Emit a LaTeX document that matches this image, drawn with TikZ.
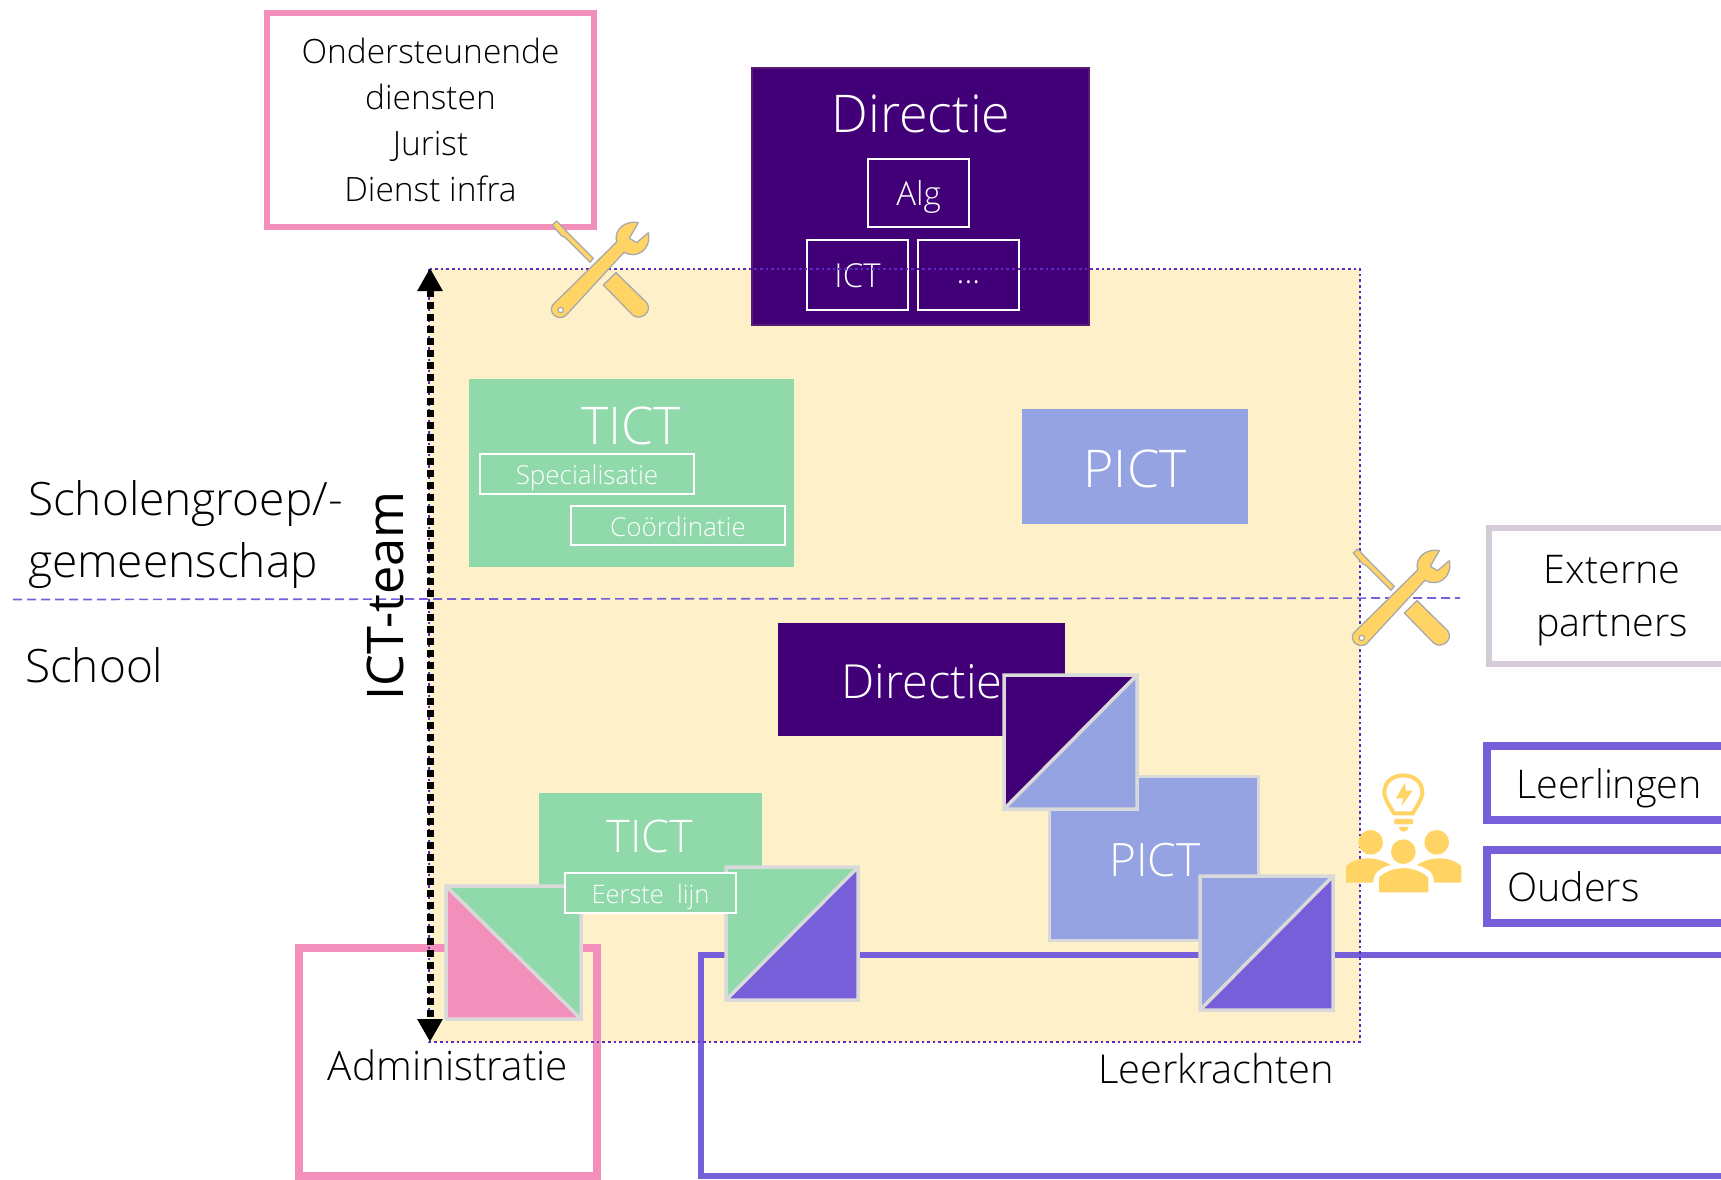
\documentclass[tikz,border=0pt]{standalone}
\usepackage{fontspec}
\setmainfont{Open Sans}
\newfontfamily\lightf[UprightFont=* Light]{Open Sans}
\usetikzlibrary{arrows.meta}
\definecolor{dpurple}{HTML}{410078}
\definecolor{dborder}{HTML}{5B1A72}
\definecolor{tgreen}{HTML}{8FD9AB}
\definecolor{pblue}{HTML}{95A3E3}
\definecolor{lpurple}{HTML}{775FD9}
\definecolor{lpink}{HTML}{F28FBB}
\definecolor{lcream}{HTML}{FEF0C9}
\definecolor{ygold}{HTML}{FFD465}
\definecolor{dotline}{HTML}{5A2DC0}
\definecolor{greyp}{HTML}{D5CCDA}
\definecolor{sqedge}{HTML}{D9D9D9}
\definecolor{icongrey}{HTML}{A9A9A9}
\newcommand{\fs}[1]{\fontsize{#1pt}{#1pt}\selectfont}
\newcommand{\dn}[2]{\raisebox{-#1pt}[\height][\depth]{#2}}
\tikzset{
  x=1pt,y=-1pt,
  bx/.style={inner sep=0pt,outer sep=0pt,align=center,anchor=north west},
  lbl/.style={inner sep=0pt,outer sep=0pt,align=center,text=black},
  wlbl/.style={inner sep=0pt,outer sep=0pt,align=center,text=white},
  fillbox/.style={bx,text=white},
  inbox/.style={bx,draw=white,line width=2.6pt,text=white},
  sqline/.style={draw=sqedge,line width=3.5pt,line join=miter},
  iconst/.style={fill=ygold,draw=icongrey,line width=1.3pt,line join=round},
  tools/.pic={
    \begin{scope}[x=0.3333pt,y=-0.3333pt]
      \path[iconst] (97,75)--(110,63)--(145,100)--(220,175)--(210,187)--(135,112)--(125,108)--cycle;
      \path[iconst] (288,218)--(250,255)--(338,345) .. controls (360,365) and (400,335) .. (380,308)--cycle;
      \path[iconst] (98,315)--(290,126) .. controls (280,90) and (315,60) .. (355,68)--(328,115)--(350,128)--(385,98) .. controls (395,150) and (350,178) .. (312,157)--(137,347) .. controls (115,364) and (83,340) .. (98,315)--cycle;
      \path[fill=white,draw=icongrey,line width=1.2pt] (122,330) circle[radius=8];
    \end{scope}
  },
}
\begin{document}
\begin{tikzpicture}
\useasboundingbox (0,0) rectangle (1721,1180);
% background band
\fill[lcream] (429,269) rectangle (1360,1042);
% outlined groups
\node[bx,draw=lpink,line width=6pt,minimum width=327pt,minimum height=214pt,font=\lightf\fontsize{33.5pt}{46pt}\selectfont] (support) at (267,13) {Ondersteunende\\diensten\\Jurist\\Dienst infra};
\draw[lpink,line width=8pt] (299,1176) coordinate (adminA) -- (299,948) -- (597,948) -- (597,1176) -- cycle;
\node[lbl,font=\lightf\fs{40.5}] (admin) at (448,1065) {Administratie};
\draw[lpurple,line width=6pt] (1721,955) coordinate (teachR) -- (701,955) -- (701,1176) -- (1721,1176);
\node[lbl,font=\lightf\fs{39.8}] (teach) at (1216,1069) {Leerkrachten};
% directie top
\node[fillbox,fill=dpurple,draw=dborder,line width=2.5pt,minimum width=337pt,minimum height=257pt] (dirbox) at (752,68) {};
\node[wlbl,font=\lightf\fs{52}] (dirt) at (921,114) {Directie};
\node[inbox,minimum width=101pt,minimum height=68pt,font=\lightf\fs{33}] (alg) at (868,159) {\dn{4}{Alg}};
\node[inbox,minimum width=101pt,minimum height=70pt,font=\lightf\fs{33}] (ict) at (807,240) {\dn{1}{ICT}};
\node[inbox,minimum width=101pt,minimum height=70pt,font=\lightf\fs{33}] (etc) at (918,240) {\dn{7}{...}};
% TICT top
\node[fillbox,fill=tgreen,minimum width=325pt,minimum height=188pt] (tict1) at (469,379) {};
\node[wlbl,font=\lightf\fs{52}] (tict1t) at (631,426) {TICT};
\node[inbox,minimum width=214pt,minimum height=40pt,font=\lightf\fs{26}] (spec) at (480,454) {\dn{4}{Specialisatie}};
\node[inbox,minimum width=214pt,minimum height=39pt,font=\lightf\fs{26}] (coord) at (571,506) {\dn{1}{Coördinatie}};
% PICT top
\node[fillbox,fill=pblue,minimum width=226pt,minimum height=115pt,font=\lightf\fs{52}] (pict1) at (1022,409) {\dn{2}{PICT}};
% divider
\coordinate (divL) at (13,599.5);
\coordinate (divR) at (1460,598);
\draw[lpurple,line width=1.7pt,dash pattern=on 9pt off 5pt] (divL) -- (divR);
% labels
\node[lbl,anchor=west,font=\lightf\fs{46}] (sg1) at (28,504) {Scholengroep/-};
\node[lbl,anchor=west,font=\lightf\fs{46}] (sg2) at (28,566) {gemeenschap};
\node[lbl,anchor=west,font=\lightf\fs{46}] (sch) at (25,665) {School};
\node[lbl,rotate=90,font=\fs{50.5}] (team) at (385,596) {ICT-team};
% directie school
\node[fillbox,fill=dpurple,minimum width=287pt,minimum height=113pt] (dir2) at (778,623) {};
\node[wlbl,font=\lightf\fs{47}] (dir2t) at (922,682) {Directie};
% PICT school
\node[fillbox,fill=pblue,draw=sqedge,line width=3pt,minimum width=209pt,minimum height=164pt] (pict2) at (1049,776) {};
\node[wlbl,font=\lightf\fs{46}] (pict2t) at (1155,860) {PICT};
% square dir/pict
\fill[dpurple] (1004,809) -- (1004,675) -- (1137,675) -- cycle;
\fill[pblue] (1004,809) -- (1137,809) -- (1137,675) -- cycle;
\draw[sqline] (1004,675) rectangle (1137,809) (1004,809) -- (1137,675);
% square pict/teacher
\fill[pblue] (1200,1010) -- (1200,876) -- (1333,876) -- cycle;
\fill[lpurple] (1200,1010) -- (1333,1010) -- (1333,876) -- cycle;
\draw[sqline] (1200,876) rectangle (1333,1010) (1200,1010) -- (1333,876);
% TICT school
\node[fillbox,fill=tgreen,minimum width=223pt,minimum height=95pt] (tict2) at (539,793) {};
\node[wlbl,font=\lightf\fs{45}] (tict2t) at (650,836) {TICT};
% square admin/tict
\fill[lpink] (446,886) -- (446,1019) -- (581,1019) -- cycle;
\fill[tgreen] (446,886) -- (581,886) -- (581,1019) -- cycle;
\draw[sqline] (446,886) rectangle (581,1019) (446,886) -- (581,1019);
% square tict/teacher
\fill[tgreen] (726,1000) -- (726,867) -- (858,867) -- cycle;
\fill[lpurple] (726,1000) -- (858,1000) -- (858,867) -- cycle;
\draw[sqline] (726,867) rectangle (858,1000) (726,1000) -- (858,867);
% first line label
\node[inbox,fill=tgreen,minimum width=171pt,minimum height=40pt,font=\lightf\fs{25.5}] (first) at (565,873) {\dn{4}{Eerste\ \ lijn}};
% dotted outline
\draw[dotline,line width=2.6pt,dash pattern=on 2.6pt off 3pt] (429,269) rectangle (1360,1042);
% vertical arrow
\coordinate (arT) at (430,268);
\coordinate (arB) at (430,1042);
\draw[black,line width=7pt,dash pattern=on 7pt off 5pt,{Triangle[length=23pt,width=24pt]}-{Triangle[length=23pt,width=24pt]}] (arT) -- (arB);
% right boxes
\draw[greyp,line width=6pt] (1721,528) coordinate (extA) -- (1489,528) -- (1489,664) -- (1721,664);
\node[lbl,font=\lightf\fs{39.5}] (ext1) at (1612,570) {Externe};
\node[lbl,font=\lightf\fs{39.5}] (ext2) at (1612,628) {partners};
\draw[lpurple,line width=8pt] (1721,746) coordinate (llA) -- (1487,746) -- (1487,820) -- (1721,820);
\node[lbl,font=\lightf\fs{39.5}] (ll) at (1609,788) {Leerlingen};
\draw[lpurple,line width=8pt] (1721,850) coordinate (oA) -- (1487,850) -- (1487,923) -- (1721,923);
\node[lbl,anchor=west,font=\lightf\fs{39.5}] (ou) at (1507,887) {Ouders};
% icons
\pic at (520,200) {tools};
\pic at (1321,528) {tools};
\begin{scope}[shift={(1320,730)},x=0.3333pt,y=-0.3333pt]
  \draw[ygold,line width=4pt] (222,250) .. controls (190,200) and (190,190) .. (196,170) .. controls (210,125) and (290,125) .. (304,170) .. controls (310,190) and (310,200) .. (278,250) -- cycle;
  \fill[ygold] (255,158) -- (228,205) -- (250,205) -- (245,228) -- (278,182) -- (257,182) -- cycle;
  \fill[ygold,rounded corners=2pt] (222,267) rectangle (280,283);
  \fill[ygold] (236,291) -- (266,291) .. controls (262,310) and (240,310) .. (236,291) -- cycle;
  \fill[ygold] (152,337) circle[radius=37];
  \fill[ygold] (250,365) circle[radius=37];
  \fill[ygold] (350,337) circle[radius=37];
  \fill[ygold] (78,458) -- (78,408) .. controls (110,378) and (170,378) .. (212,405) .. controls (175,415) and (160,430) .. (160,458) -- cycle;
  \fill[ygold] (424,458) -- (424,408) .. controls (392,378) and (332,378) .. (290,405) .. controls (327,415) and (342,430) .. (342,458) -- cycle;
  \fill[ygold] (177,487) -- (177,443) .. controls (215,405) and (285,405) .. (325,443) -- (325,487) -- cycle;
\end{scope}
\end{tikzpicture}
\end{document}
